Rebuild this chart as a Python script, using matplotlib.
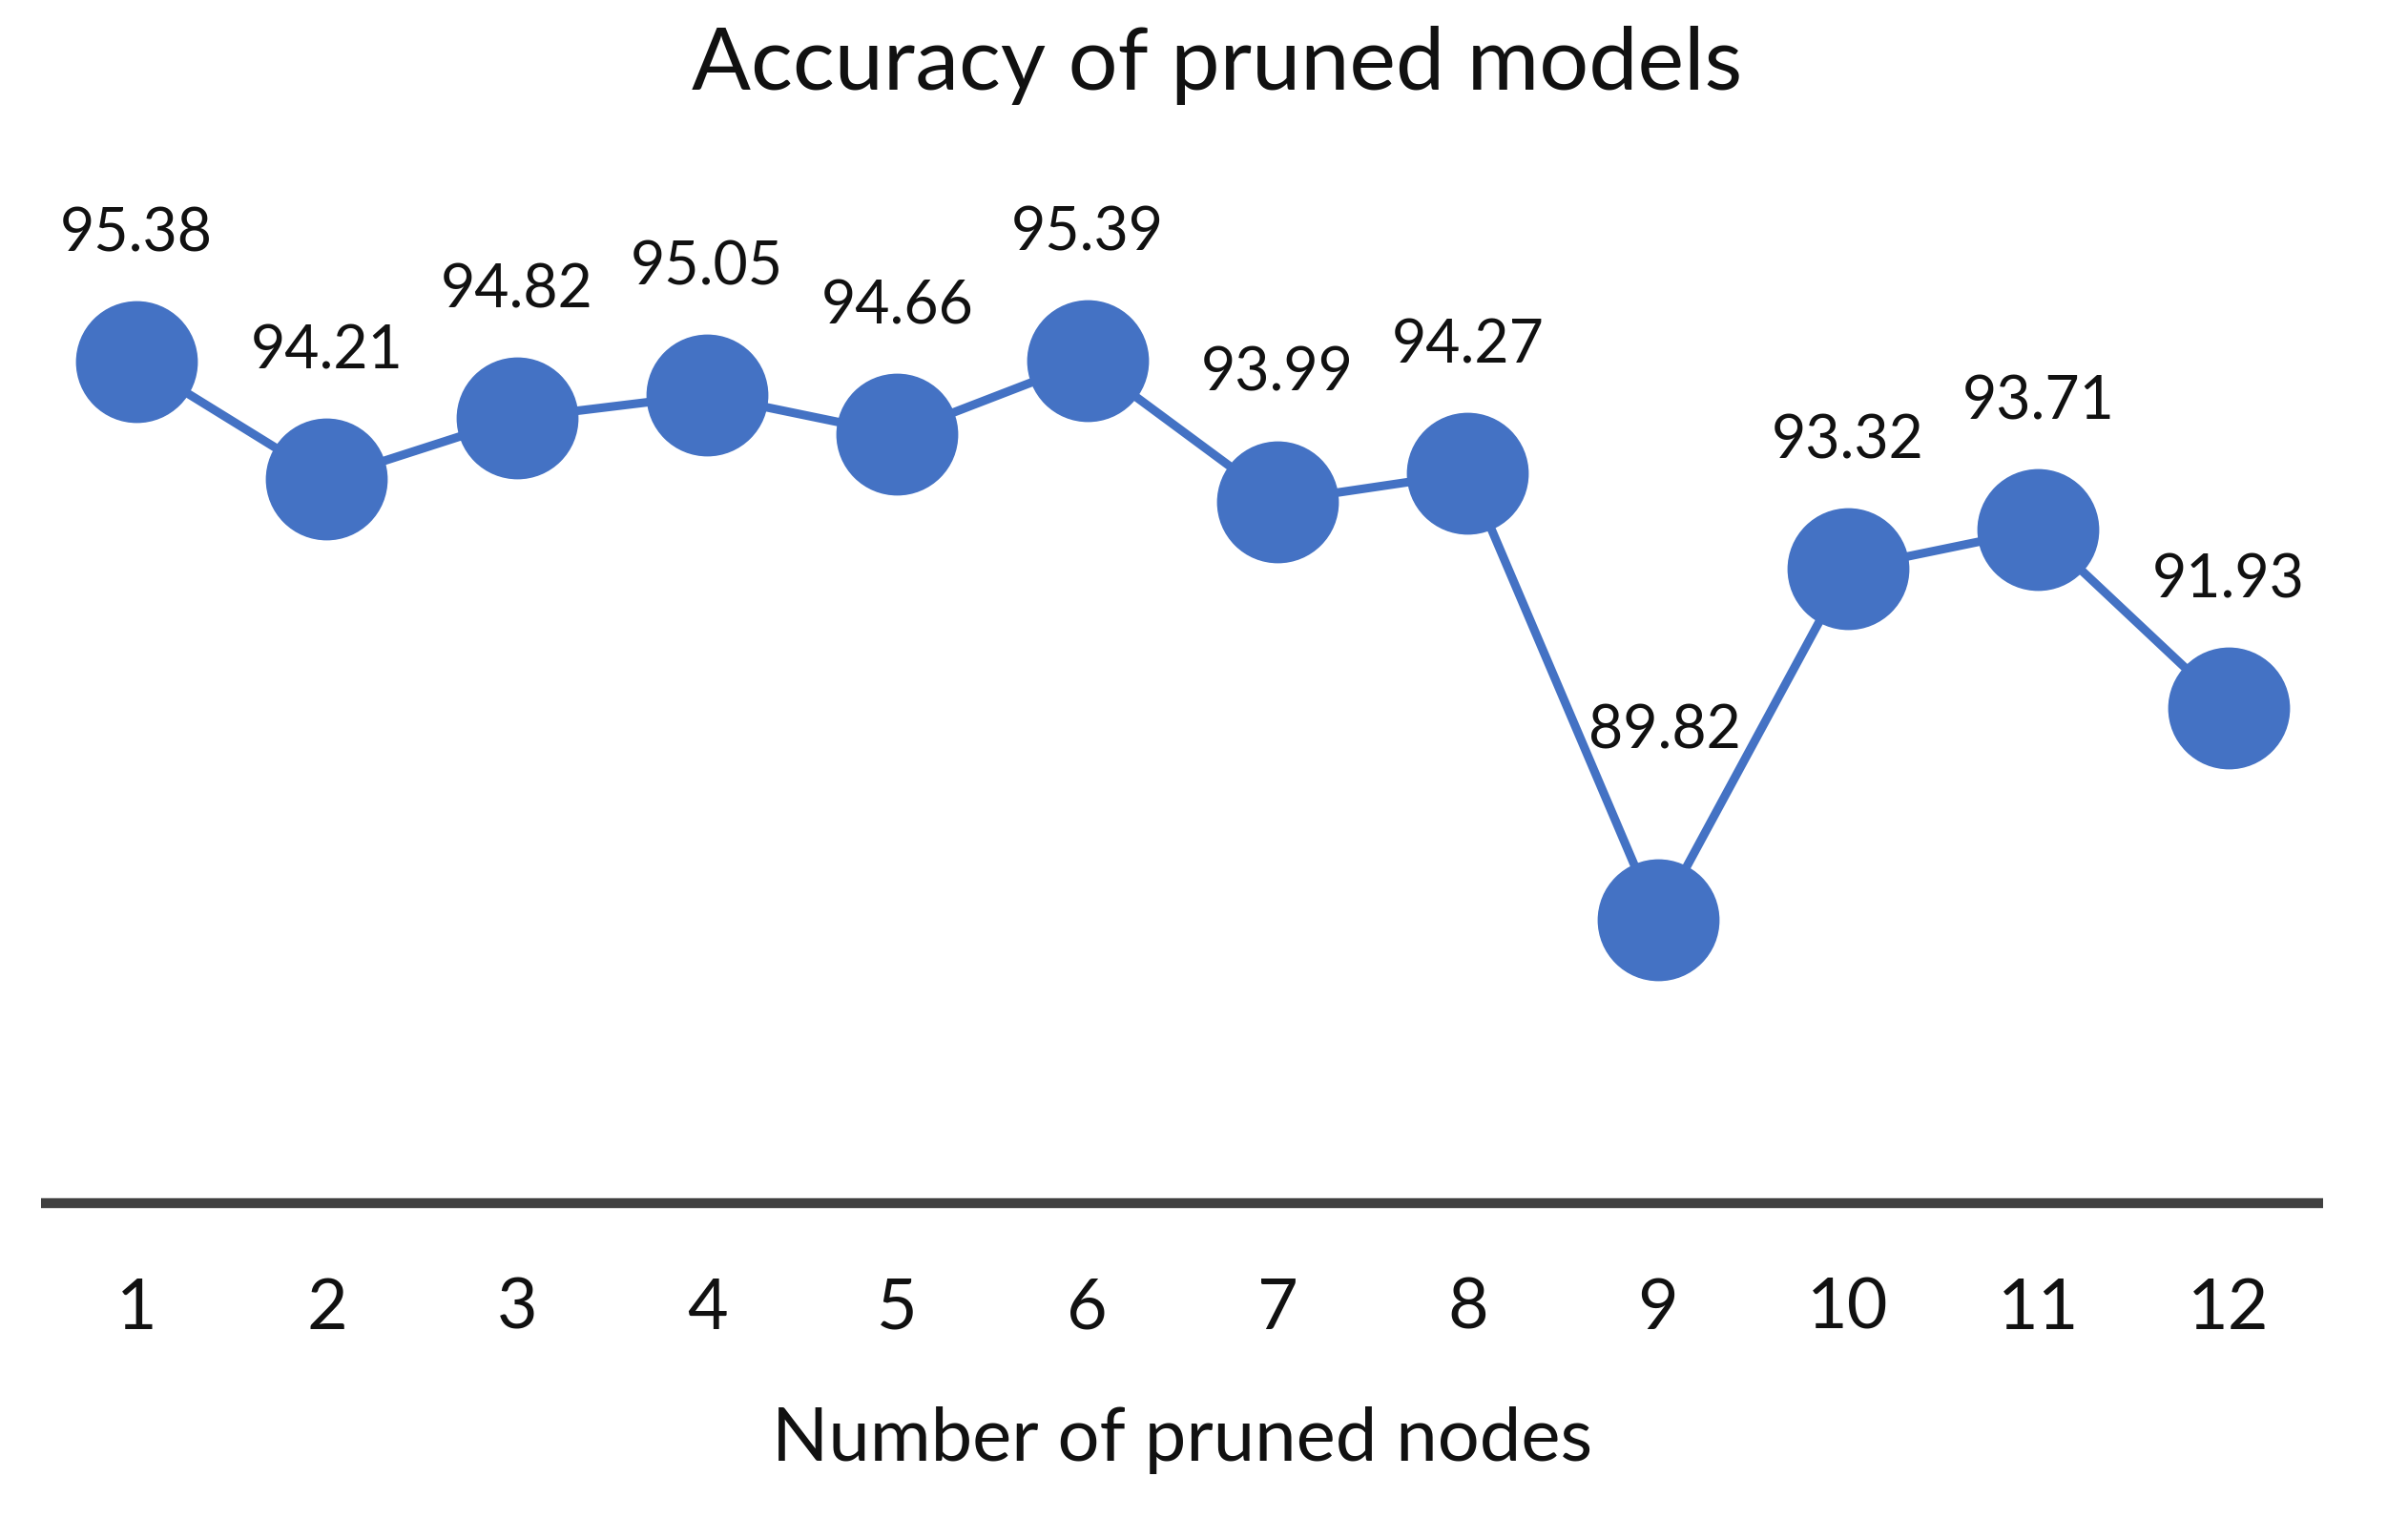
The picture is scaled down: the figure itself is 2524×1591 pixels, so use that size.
import matplotlib
matplotlib.use("Agg")
import matplotlib.pyplot as plt

plt.rcParams['font.family'] = ['Lato', 'DejaVu Sans']

nodes = [1, 2, 3, 4, 5, 6, 7, 8, 9, 10, 11, 12]
accuracy = [95.38, 94.21, 94.82, 95.05, 94.66, 95.39, 93.99, 94.27, 89.82, 93.32, 93.71, 91.93]
tick_labels = [str(n) for n in nodes]

blue = "#4472C4"

fig = plt.figure(figsize=(25.24, 15.91), dpi=100)
ax = fig.add_axes([0.01723, 0.2074, 0.9476, 0.5952])

ax.plot(nodes, accuracy, color=blue, linewidth=6.5, marker="o",
        markersize=91, markerfacecolor=blue, markeredgecolor=blue,
        clip_on=False, zorder=3)

for n, v in zip(nodes, accuracy):
    dx, dy = 0, 83.5
    if n == 9:
        # this one sits higher in the original
        dx, dy = 5, 129.6
    ax.annotate(f"{v:.2f}", (n, v), xytext=(dx, dy), textcoords="offset points",
                ha="center", va="baseline", fontsize=45, color="#111111", zorder=4)

ax.set_xlim(0.5, 12.5)
ax.set_ylim(87, 96)

for s in ["top", "left", "right"]:
    ax.spines[s].set_visible(False)
ax.spines["bottom"].set_color("#404040")
ax.spines["bottom"].set_linewidth(7.5)
ax.spines["bottom"].set_capstyle("butt")

ax.set_yticks([])
ax.set_xticks(nodes)
ax.set_xticklabels(tick_labels, fontsize=53, color="#111111")
ax.tick_params(axis="x", length=0, pad=56)

ax.set_xlabel("Number of pruned nodes", fontsize=56, color="#111111", va="baseline")
ax.xaxis.set_label_coords(0.5, -0.285)

fig.suptitle("Accuracy of pruned models", x=0.5055, y=0.9409, va="baseline",
             fontsize=66, color="#111111")

fig.savefig("out.png", dpi=100)
